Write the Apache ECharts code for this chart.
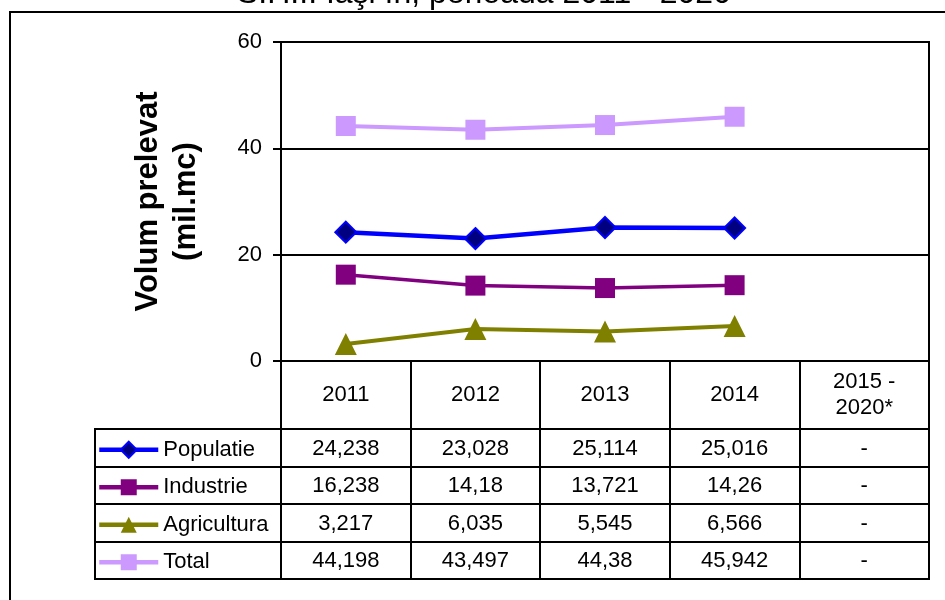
<!DOCTYPE html>
<html>
<head>
<meta charset="utf-8">
<script src="https://cdn.jsdelivr.net/npm/echarts@6/dist/echarts.min.js"></script>
<style>html,body{margin:0;padding:0;background:#fff}#c{width:945px;height:600px}</style>
</head>
<body>
<div id="c"></div>
<script>
const titleText = 'S.H.I. Iaşi în, perioada 2011 - 2020';
const yAxisTitle = 'Volum prelevat\n(mil.mc)';
const categories = ['2011', '2012', '2013', '2014', '2015 -\n2020*'];
const seriesNames = ['Populatie', 'Industrie', 'Agricultura', 'Total'];
const populatie = [24.238, 23.028, 25.114, 25.016, null];
const industrie = [16.238, 14.18, 13.721, 14.26, null];
const agricultura = [3.217, 6.035, 5.545, 6.566, null];
const total = [44.198, 43.497, 44.38, 45.942, null];
const yMin = 0, yMax = 60, yStep = 20;

const FONT = 'Liberation Sans, Arial, sans-serif';
const allValues = [populatie, industrie, agricultura, total];
const styles = [
  {color: '#0000FF', fill: '#000080', symbol: 'diamond', size: 21, width: 4.5, border: '#0000FF', bw: 2},
  {color: '#800080', fill: '#800080', symbol: 'rect', size: 20, width: 3.5, border: '#800080', bw: 0},
  {color: '#808000', fill: '#808000', symbol: 'triangle', size: 22, width: 4, border: '#808000', bw: 0},
  {color: '#CC99FF', fill: '#CC99FF', symbol: 'rect', size: 20, width: 4, border: '#CC99FF', bw: 0}
];

// layout
const plot = {left: 281, top: 42, width: 648, height: 319};
const table = {left: 281, top: 429, width: 648, height: 150};
const legendCol = {left: 95, top: 429, width: 186, height: 150};
const rowH = table.height / seriesNames.length;

const fmt = v => v == null ? '-' : String(v).replace('.', ',');
const cellData = [];
const cellText = [];
allValues.forEach((arr, r) => arr.forEach((v, c) => { cellData.push([c, r]); cellText.push(fmt(v)); }));

const blackLine = {lineStyle: {color: '#000', width: 2}};

const series = seriesNames.map((name, i) => ({
  name, type: 'line', xAxisIndex: 0, yAxisIndex: 0,
  data: allValues[i],
  symbol: styles[i].symbol, symbolSize: styles[i].size,
  lineStyle: {color: styles[i].color, width: styles[i].width},
  itemStyle: {color: styles[i].fill, borderColor: styles[i].border, borderWidth: styles[i].bw, opacity: 1},
  emphasis: {disabled: true}, animation: false, z: 3
}));
series.push({
  type: 'custom', xAxisIndex: 1, yAxisIndex: 1, data: cellData, encode: {x: 0, y: 1},
  animation: false, silent: true,
  renderItem: (params, api) => {
    const p = api.coord([api.value(0), api.value(1)]);
    return {type: 'text', x: p[0], y: p[1] + 1, style: {text: cellText[params.dataIndex], align: 'center', verticalAlign: 'middle', fill: '#000', font: '22px ' + FONT}};
  }
});

const legends = seriesNames.map((name, i) => ({
  data: [name], left: legendCol.left + 2, top: legendCol.top + rowH * (i + 0.5) - 9,
  padding: 0, itemWidth: 59, itemHeight: 20, itemGap: 0, selectedMode: false,
  lineStyle: {width: 4.5, color: styles[i].color},
  textStyle: {fontSize: 22, color: '#000', fontFamily: FONT}
}));

const option = {
  animation: false,
  backgroundColor: '#fff',
  textStyle: {fontFamily: FONT},
  title: {text: titleText, left: 232, top: -27, textStyle: {fontSize: 32, fontWeight: 'normal', color: '#000', fontFamily: FONT}},
  graphic: [{type: 'rect', shape: {x: 10, y: 12, width: 1000, height: 1000}, style: {fill: 'none', stroke: '#000', lineWidth: 2}, silent: true}],
  legend: legends,
  grid: [
    Object.assign({show: true, borderColor: '#000', borderWidth: 2, backgroundColor: 'transparent'}, plot),
    Object.assign({show: true, borderColor: '#000', borderWidth: 2, backgroundColor: 'transparent'}, table),
    Object.assign({show: true, borderColor: '#000', borderWidth: 2, backgroundColor: 'transparent'}, legendCol)
  ],
  xAxis: [
    {gridIndex: 0, type: 'category', data: categories, boundaryGap: true,
     axisLine: blackLine, axisTick: {show: true, interval: 0, length: 68, inside: false, lineStyle: {color: '#000', width: 2}},
     axisLabel: {interval: 0, margin: 34, verticalAlign: 'middle', fontSize: 22, color: '#000', lineHeight: 26, fontFamily: FONT},
     splitLine: {show: false}},
    {gridIndex: 1, type: 'category', data: categories, boundaryGap: true, position: 'top',
     axisLine: {show: false}, axisTick: {show: false}, axisLabel: {show: false},
     splitLine: {show: true, interval: 0, lineStyle: {color: '#000', width: 2}}},
    {gridIndex: 2, type: 'value', show: false}
  ],
  yAxis: [
    {gridIndex: 0, type: 'value', min: yMin, max: yMax, interval: yStep,
     axisLine: {show: true, lineStyle: {color: '#000', width: 2}},
     axisTick: {show: true, length: 8, lineStyle: {color: '#000', width: 2}},
     axisLabel: {fontSize: 22, color: '#000', margin: 19, fontFamily: FONT},
     splitLine: {show: true, lineStyle: {color: '#000', width: 2}},
     name: yAxisTitle, nameLocation: 'middle', nameGap: 76,
     nameTextStyle: {fontSize: 31, fontWeight: 'bold', color: '#000', lineHeight: 38, fontFamily: FONT}},
    {gridIndex: 1, type: 'category', data: seriesNames, inverse: true, boundaryGap: true,
     axisLine: {show: false}, axisTick: {show: false}, axisLabel: {show: false},
     splitLine: {show: true, interval: 0, lineStyle: {color: '#000', width: 2}}},
    {gridIndex: 2, type: 'category', data: seriesNames, inverse: true, boundaryGap: true,
     axisLine: {show: false}, axisTick: {show: false}, axisLabel: {show: false},
     splitLine: {show: true, interval: 0, lineStyle: {color: '#000', width: 2}}}
  ],
  series
};

const chart = echarts.init(document.getElementById('c'), null, {renderer: 'canvas'});
chart.setOption(option);
</script>
</body>
</html>
